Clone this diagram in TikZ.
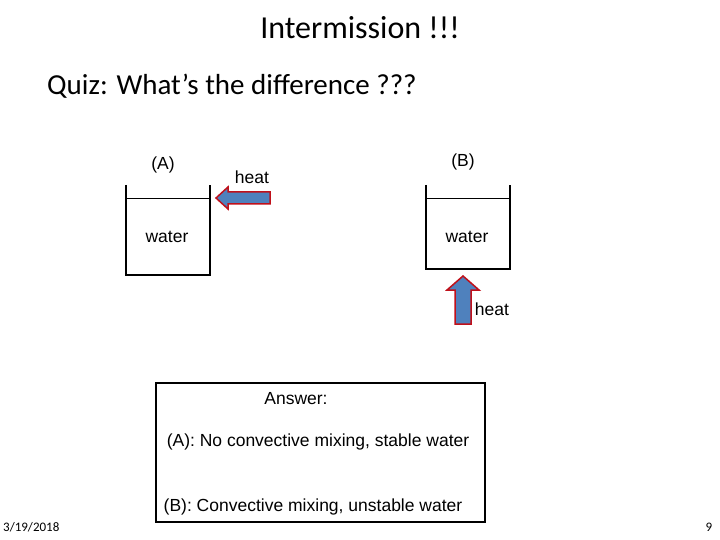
\documentclass[tikz,border=0pt]{standalone}
\usepackage{fontspec}
\setmainfont{Liberation Sans}
\newfontfamily\carlfont{Carlito}
\definecolor{arrfill}{HTML}{4F81BD}
\definecolor{arrline}{HTML}{C0101A}
\begin{document}
\begin{tikzpicture}[x=1pt,y=-1pt,
  lbl/.style={font=\fontsize{17.5}{20}\selectfont, inner sep=0},
  beaker/.style={draw=black, line width=1.2pt},
  harrow/.style={draw=arrline, fill=arrfill, line width=1.5pt, line join=miter}]
\useasboundingbox (0,0) rectangle (720,540);
\node[font=\carlfont\fontsize{32}{36}\selectfont] (title) at (360,28) {Intermission !!!};
\node[font=\carlfont\fontsize{29}{33}\selectfont, anchor=west, inner sep=0] (quiz) at (47,86) {Quiz: What’s the difference ???};
% beakers
\draw[beaker] (126,185) -- (126,275) -- (210,275) -- (210,185);
\draw (126,198) -- (210,198);
\draw[beaker] (426,185) -- (426,269) -- (510,269) -- (510,185);
\draw (426,198) -- (510,198);
\node[lbl] (a) at (163,165) {(A)};
\node[lbl] (b) at (463,162) {(B)};
\node[lbl] (wa) at (167,237) {water};
\node[lbl] (wb) at (467,237) {water};
\node[lbl] (h1) at (252,177) {heat};
\node[lbl] (h2) at (492,309) {heat};
% arrows
\draw[harrow] (216,198) -- (228,187) -- (228,192) -- (270,192) -- (270,204) -- (228,204) -- (228,209) -- cycle;
\draw[harrow] (463,276) -- (479,290) -- (471,290) -- (471,324) -- (455,324) -- (455,290) -- (447,290) -- cycle;
% answer
\node[draw=black, line width=1.2pt, minimum width=329pt, minimum height=139pt, inner sep=0] (box) at (320.5,452.5) {};
\node[lbl] (ans) at (296,399) {Answer:};
\node[lbl] (la) at (318,442) {(A): No convective mixing, stable water};
\node[lbl] (lb) at (313,507) {(B): Convective mixing, unstable water};
\node[font=\carlfont\fontsize{13}{15}\selectfont, anchor=west, inner sep=0] (date) at (3,527) {3/19/2018};
\node[font=\carlfont\fontsize{13}{15}\selectfont, inner sep=0] (pg) at (709,527) {9};
\end{tikzpicture}
\end{document}
